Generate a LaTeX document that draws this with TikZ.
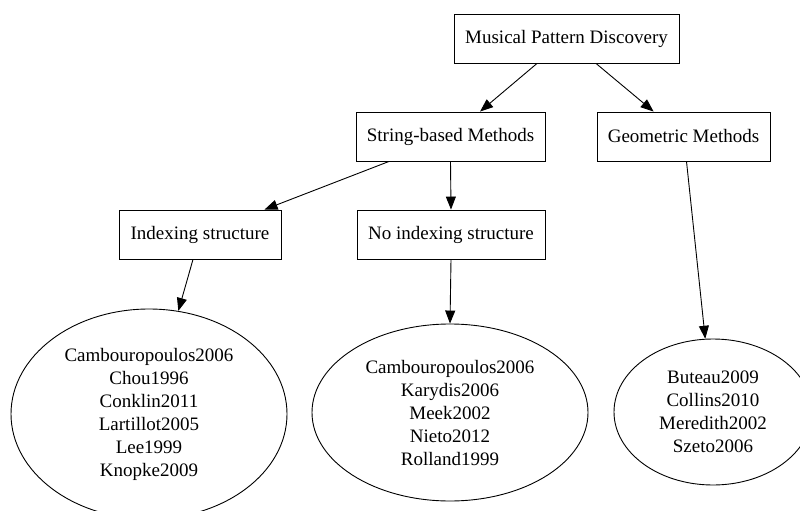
\documentclass[tikz,border=0pt]{standalone}
\usepackage{fontspec}
\setmainfont{Liberation Serif}
\usetikzlibrary{shapes.geometric,arrows.meta}
\begin{document}
\begin{tikzpicture}[x=1pt,y=1pt,
  box/.style={draw,line width=0.9pt,rectangle,inner sep=0pt,minimum height=49pt,font=\fontsize{19}{23}\selectfont},
  ell/.style={draw,line width=0.9pt,ellipse,inner sep=0pt,align=center,font=\fontsize{19}{23}\selectfont},
  edge/.style={draw,line width=0.9pt,-{Triangle[length=13pt,width=10pt]}}]
\useasboundingbox (0,0) rectangle (800,-511);
\node[box,minimum width=225pt] (top) at (566.5,-38.5) {Musical Pattern Discovery};
\node[box,minimum width=189pt] (sb) at (450.5,-136.5) {String-based Methods};
\node[box,minimum width=173pt] (geo) at (683.5,-136.5) {Geometric Methods};
\node[box,minimum width=162pt] (idx) at (200,-234.5) {Indexing structure};
\node[box,minimum width=188pt] (noidx) at (451,-234.5) {No indexing structure};
\node[ell,minimum width=276pt,minimum height=210pt] (e1) at (149,-414) {Cambouropoulos2006\\Chou1996\\Conklin2011\\Lartillot2005\\Lee1999\\Knopke2009};
\node[ell,minimum width=276pt,minimum height=177pt] (e2) at (450,-412.5) {Cambouropoulos2006\\Karydis2006\\Meek2002\\Nieto2012\\Rolland1999};
\node[ell,minimum width=198pt,minimum height=146pt] (e3) at (713,-412) {Buteau2009\\Collins2010\\Meredith2002\\Szeto2006};
\draw[edge] ([xshift=-29.5pt]top.south) -- (sb);
\draw[edge] ([xshift=29.5pt]top.south) -- (geo);
\draw[edge] ([xshift=-61.5pt]sb.south) -- (idx);
\draw[edge] (sb.south) -- (noidx.north);
\draw[edge] ([xshift=-7pt]idx.south) -- (e1);
\draw[edge] (noidx.south) -- (e2.north);
\draw[edge] (geo.south) ++(3pt,0) coordinate (gs) (gs) -- (e3);
\end{tikzpicture}
\end{document}
